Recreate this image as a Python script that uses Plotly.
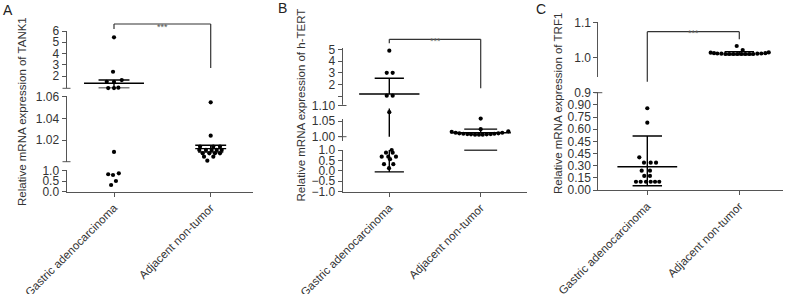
import plotly.graph_objects as go

W, H = 787, 294
FONT = "Arial, Liberation Sans, Helvetica, sans-serif"
INK = "#222222"
AXC = "#555555"

categories = ["Gastric adenocarcinoma", "Adjacent non-tumor"]

# ---------------- Panel A : TANK1 (values read per axis segment) ----------------
tank1_tumor_top = [5.44, 2.38, 1.49, 1.47, 1.64, 0.93, 0.93, 0.96]
tank1_tumor_top_dx = [0.0, -0.01, -0.075, 0.0, 0.08, -0.06, 0.0, 0.045]
tank1_tumor_mid = [1.009]
tank1_tumor_mid_dx = [0.0]
tank1_tumor_low = [0.83, 0.795, 0.876, 0.51, 0.32]
tank1_tumor_low_dx = [-0.06, -0.01, 0.05, 0.02, -0.03]
tank1_tumor_mean, tank1_tumor_hi, tank1_tumor_lo = 1.35, 1.64, 0.91

tank1_normal_mid = [1.0548, 1.024,
                    1.0138, 1.0138, 1.0138,
                    1.0108, 1.0108, 1.0108, 1.0108, 1.0108,
                    1.0077, 1.0077, 1.0077, 1.0077,
                    1.0046, 1.0046, 1.0009]
tank1_normal_mid_dx = [0.0, 0.0,
                       -0.11, 0.027, 0.096,
                       -0.118, -0.049, 0.01, 0.062, 0.114,
                       -0.083, -0.014, 0.044, 0.096,
                       -0.069, 0.027, -0.035]
tank1_normal_mean, tank1_normal_hi, tank1_normal_lo = 1.012, 1.0151, 1.0089

# ---------------- Panel B : h-TERT ----------------
htert_tumor_top = [4.88, 3.0, 3.0, 1.05, 1.05]
htert_tumor_top_dx = [0.0, -0.028, 0.037, -0.028, 0.037]
htert_tumor_mid = [1.078]
htert_tumor_mid_dx = [0.0]
htert_tumor_low = [1.0, 0.87, 0.87, 0.68, 0.68, 0.68, 0.56, 0.32, 0.32, 0.13]
htert_tumor_low_dx = [0.026, -0.036, 0.037, -0.083, -0.011, 0.073, 0.008, -0.058, 0.044, -0.003]
htert_tumor_mean, htert_tumor_hi, htert_tumor_lo = 1.196, 2.53, -0.05

htert_normal_mid = [1.0578, 1.024,
                    1.0157, 1.0126, 1.0107, 1.0094, 1.0085, 1.0075, 1.0063, 1.0063,
                    1.0063, 1.0075, 1.0085, 1.0094, 1.0107, 1.0126, 1.0170]
htert_normal_mid_dx = [0.0, 0.0,
                       -0.317, -0.274, -0.234, -0.190, -0.146, -0.106, -0.062, -0.019,
                       0.022, 0.066, 0.109, 0.149, 0.193, 0.236, 0.302]
htert_normal_mean, htert_normal_hi, htert_normal_lo = 1.0126, 1.024, 1.0

# ---------------- Panel C : TRF1 ----------------
trf1_tumor_low = [1.008, 0.830, 0.403, 0.337, 0.337, 0.337, 0.238, 0.238, 0.173, 0.173,
                  0.102, 0.102, 0.102, 0.102, 0.102, 0.102]
trf1_tumor_low_dx = [0.0, 0.0, -0.087, -0.036, 0.037, 0.095, -0.061, 0.029, -0.033, 0.029,
                     -0.123, -0.072, -0.014, 0.037, 0.084, 0.13]
trf1_tumor_mean, trf1_tumor_hi, trf1_tumor_lo = 0.287, 0.666, 0.053

trf1_normal_top = [1.0327, 1.021,
                   1.0135, 1.012, 1.011, 1.0105, 1.0095, 1.0095, 1.0095, 1.0095,
                   1.0095, 1.0095, 1.0095, 1.0095, 1.0105, 1.011, 1.012, 1.014]
trf1_normal_top_dx = [-0.028, 0.037,
                      -0.311, -0.275, -0.239, -0.195, -0.152, -0.109, -0.065, -0.022,
                      0.022, 0.065, 0.109, 0.152, 0.196, 0.239, 0.283, 0.320]
trf1_normal_mean, trf1_normal_hi, trf1_normal_lo = 1.0095, 1.016, 1.007

# tick labels (as printed on the original figure)
a_top_ticks, a_top_text = [2, 3, 4, 5, 6], ["2", "3", "4", "5", "6"]
a_mid_ticks, a_mid_text = [1.02, 1.04, 1.06], ["1.02", "1.04", "1.06"]
a_low_ticks, a_low_text = [0, 0.5, 1.0], ["0.0", "0.5", "1.0"]
b_top_ticks, b_top_text = [1, 2, 3, 4, 5], ["", "2", "3", "4", "5"]
b_mid_ticks, b_mid_text = [1.00, 1.05, 1.10], ["1.00", "1.05", "1.10"]
b_low_ticks, b_low_text = [-1.0, -0.5, 0, 0.5, 1.0], ["\u22121.0", "\u22120.5", "0.0", "0.5", "1.0"]
c_top_ticks, c_top_text = [1.0, 1.1], ["1.0", "1.1"]
c_low_ticks = [0, 0.15, 0.30, 0.45, 0.60, 0.75, 0.90, 1.05, 1.20]
c_low_text = ["0.00", "0.15", "0.30", "0.45", "0.45", "0.60", "0.75", "0.90", "0.9"]

# ---------------- layout helpers ----------------
def pxx(p):
    return p / W

def pxy(p):
    return 1 - p / H

def xdom(d0, d1):
    return [pxx(d0), pxx(d1)]

def ydom(top, bot):
    return [pxy(bot), pxy(top)]

def xrange_(d0, d1, c0, c1):
    u = c1 - c0
    return [-(c0 - d0) / u, 1 + (d1 - c1) / u]

def yrange_(top, bot, v1, p1, v2, p2):
    s = (v1 - v2) / (p2 - p1)  # value per px
    return [v2 - (bot - p2) * s, v1 + (p1 - top) * s]

fig = go.Figure()
layout = dict(width=W, height=H, margin=dict(l=0, r=0, t=0, b=0, autoexpand=False),
              paper_bgcolor="white", plot_bgcolor="white", showlegend=False,
              font=dict(family=FONT, color=INK))
shapes, annotations = [], []

tickfont = dict(family=FONT, size=12, color="#333333")

def yaxis(top, bot, rng, anchor, tv, tt, showline=True):
    return dict(domain=ydom(top, bot), range=rng, anchor=anchor, showline=showline,
                linecolor=AXC, linewidth=1, ticks="outside", ticklen=4, tickcolor=AXC,
                tickwidth=1, tickvals=tv, ticktext=tt, showgrid=False, zeroline=False,
                tickfont=tickfont, fixedrange=True, automargin=False)

def xaxis(d0, d1, c0, c1, anchor):
    return dict(domain=xdom(d0, d1), range=xrange_(d0, d1, c0, c1), anchor=anchor,
                showline=True, linecolor=AXC, linewidth=1, ticks="outside", ticklen=4,
                tickcolor=AXC, tickvals=[0, 1], ticktext=categories, tickangle=-45,
                showgrid=False, zeroline=False, fixedrange=True, automargin=False,
                tickfont=dict(family=FONT, size=11.5, color="#333333"))

MS = 4.2

def pts(xa, ya, cat, vals, dx):
    fig.add_trace(go.Scatter(x=[cat + d for d in dx], y=vals, mode="markers",
                             marker=dict(color="black", size=MS), xaxis=xa, yaxis=ya,
                             cliponaxis=False, hoverinfo="y"))

def hline(xa, ya, cat, v, hw):
    fig.add_trace(go.Scatter(x=[cat - hw, cat + hw], y=[v, v], mode="lines",
                             line=dict(color="black", width=1.4), xaxis=xa, yaxis=ya,
                             cliponaxis=False, hoverinfo="skip"))

def vline(xa, ya, cat, v0, v1):
    fig.add_trace(go.Scatter(x=[cat, cat], y=[v0, v1], mode="lines",
                             line=dict(color="black", width=1.4), xaxis=xa, yaxis=ya,
                             cliponaxis=False, hoverinfo="skip"))

def brk(ax_px, y_px, half=4):
    shapes.append(dict(type="line", xref="paper", yref="paper",
                       x0=pxx(ax_px - half), x1=pxx(ax_px + half), y0=pxy(y_px), y1=pxy(y_px),
                       line=dict(color=AXC, width=1)))

def bracket(xa, y_px, left_end, right_end, star_y):
    line = dict(color="#333333", width=1.2)
    shapes.append(dict(type="line", xref=xa, yref="paper", x0=0, x1=1, y0=pxy(y_px), y1=pxy(y_px), line=line))
    shapes.append(dict(type="line", xref=xa, yref="paper", x0=0, x1=0, y0=pxy(y_px), y1=pxy(left_end), line=line))
    shapes.append(dict(type="line", xref=xa, yref="paper", x0=1, x1=1, y0=pxy(y_px), y1=pxy(right_end), line=line))
    annotations.append(dict(xref=xa, yref="paper", x=0.5, y=pxy(star_y), text="***",
                            showarrow=False, font=dict(size=9, color="#555555")))

def ytitle(x_px, y_px, text):
    annotations.append(dict(xref="paper", yref="paper", x=pxx(x_px), y=pxy(y_px), text=text,
                            textangle=-90, showarrow=False, xanchor="center", yanchor="middle",
                            font=dict(size=11.5, color="#333333", family=FONT)))

def letter(x_px, y_px, text):
    annotations.append(dict(xref="paper", yref="paper", x=pxx(x_px), y=pxy(y_px), text=text,
                            showarrow=False, xanchor="center", yanchor="middle",
                            font=dict(size=14, color=INK, family=FONT)))

MEAN_HW = 0.31
CAP_HW = 0.16

# ================= Panel A =================
AX, AX0, AX1 = 66.5, 253, 114
AC1 = 210.7
layout["xaxis"] = xaxis(AX, AX0, AX1, AC1, "y3")
layout["yaxis"] = yaxis(30.5, 88.3, yrange_(30.5, 88.3, 6, 31, 2, 76), "x", a_top_ticks, a_top_text)
layout["yaxis2"] = yaxis(96.2, 161.7, yrange_(96.2, 161.7, 1.06, 96.7, 1.02, 140), "x", a_mid_ticks, a_mid_text)
layout["yaxis3"] = yaxis(169.5, 191.7, yrange_(169.5, 191.7, 1.0, 170.7, 0.0, 191.7), "x", a_low_ticks, a_low_text)
brk(AX, 88.3)
brk(AX, 161.7)

pts("x", "y", 0, tank1_tumor_top, tank1_tumor_top_dx)
pts("x", "y2", 0, tank1_tumor_mid, tank1_tumor_mid_dx)
pts("x", "y3", 0, tank1_tumor_low, tank1_tumor_low_dx)
hline("x", "y", 0, tank1_tumor_mean, MEAN_HW)
hline("x", "y", 0, tank1_tumor_hi, CAP_HW)
hline("x", "y", 0, tank1_tumor_lo, CAP_HW)
vline("x", "y", 0, tank1_tumor_lo, tank1_tumor_hi)

pts("x", "y2", 1, tank1_normal_mid, tank1_normal_mid_dx)
hline("x", "y2", 1, tank1_normal_mean, CAP_HW)
hline("x", "y2", 1, tank1_normal_hi, CAP_HW)
hline("x", "y2", 1, tank1_normal_lo, 0.13)
vline("x", "y2", 1, tank1_normal_lo, tank1_normal_hi)

bracket("x", 24, 29, 68, 19.5)
ytitle(22, 112, "Relative mRNA expression of TANK1")
letter(7.5, 10, "A")

# ================= Panel B =================
BX, BX1 = 342.5, 526.7
BC0, BC1 = 389.3, 480.7
layout["xaxis2"] = xaxis(BX, BX1, BC0, BC1, "y6")
layout["yaxis4"] = yaxis(48.3, 105.5, yrange_(48.3, 105.5, 5, 49.3, 1, 96.3), "x2", b_top_ticks, b_top_text)
layout["yaxis5"] = yaxis(104.5, 141, yrange_(104.5, 141, 1.05, 121, 1.00, 136.7), "x2", b_mid_ticks, b_mid_text, showline=False)
layout["yaxis6"] = yaxis(149.5, 191.7, yrange_(149.5, 191.7, 1.0, 150, -1.0, 191.7), "x2", b_low_ticks, b_low_text)
shapes.append(dict(type="line", xref="paper", yref="paper", x0=pxx(BX), x1=pxx(BX),
                   y0=pxy(119), y1=pxy(141), line=dict(color=AXC, width=1)))
brk(BX, 105.5)
brk(BX, 136.7)

pts("x2", "y4", 0, htert_tumor_top, htert_tumor_top_dx)
pts("x2", "y5", 0, htert_tumor_mid, htert_tumor_mid_dx)
pts("x2", "y6", 0, htert_tumor_low, htert_tumor_low_dx)
hline("x2", "y4", 0, htert_tumor_mean, MEAN_HW + 0.02)
hline("x2", "y4", 0, htert_tumor_hi, CAP_HW)
hline("x2", "y6", 0, htert_tumor_lo, CAP_HW)
vline("x2", "y4", 0, htert_tumor_mean, htert_tumor_hi)
vline("x2", "y5", 0, 1.0, 1.09)
vline("x2", "y6", 0, htert_tumor_lo, 1.0)

pts("x2", "y5", 1, htert_normal_mid, htert_normal_mid_dx)
hline("x2", "y5", 1, htert_normal_mean, MEAN_HW + 0.02)
hline("x2", "y5", 1, htert_normal_hi, CAP_HW + 0.02)
hline("x2", "y6", 1, htert_normal_lo, CAP_HW + 0.02)
vline("x2", "y5", 1, htert_normal_mean, htert_normal_hi)

bracket("x2", 39.3, 43.3, 88.3, 34)
ytitle(300.5, 105, "Relative mRNA expression of h-TERT")
letter(282, 8.5, "B")

# ================= Panel C =================
CX, CX1 = 598.3, 783
CC0, CC1 = 647.3, 739.3
layout["xaxis3"] = xaxis(CX, CX1, CC0, CC1, "y8")
layout["yaxis7"] = yaxis(22, 76.7, yrange_(22, 76.7, 1.1, 22.7, 1.0, 57.3), "x3", c_top_ticks, c_top_text)
layout["yaxis8"] = yaxis(92.2, 190, yrange_(92.2, 190, 1.2, 92.7, 0.0, 190), "x3", c_low_ticks, c_low_text)
brk(CX, 92.7)

pts("x3", "y8", 0, trf1_tumor_low, trf1_tumor_low_dx)
hline("x3", "y8", 0, trf1_tumor_mean, MEAN_HW + 0.015)
hline("x3", "y8", 0, trf1_tumor_hi, CAP_HW)
hline("x3", "y8", 0, trf1_tumor_lo, CAP_HW)
vline("x3", "y8", 0, trf1_tumor_lo, trf1_tumor_hi)

pts("x3", "y7", 1, trf1_normal_top, trf1_normal_top_dx)
hline("x3", "y7", 1, trf1_normal_mean, CAP_HW)
hline("x3", "y7", 1, trf1_normal_hi, CAP_HW)
hline("x3", "y7", 1, trf1_normal_lo, CAP_HW)
vline("x3", "y7", 1, trf1_normal_lo, trf1_normal_hi)

bracket("x3", 31.7, 81.7, 39.3, 26)
ytitle(558, 104, "Relative mRNA expression of TRF1")
letter(541, 9.5, "C")

layout["shapes"] = shapes
layout["annotations"] = annotations
fig.update_layout(**layout)
fig.write_html("out.html", config={"displayModeBar": False, "staticPlot": True},
               post_script="document.body.style.margin='0';document.body.style.overflow='hidden';")
